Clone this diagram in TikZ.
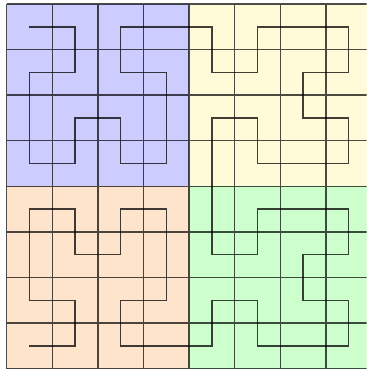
\documentclass[tikz,border=0pt]{standalone}
\definecolor{quadblue}{HTML}{CCCCFF}
\definecolor{quadyellow}{HTML}{FFFAD7}
\definecolor{quadpeach}{HTML}{FFE4CC}
\definecolor{quadgreen}{HTML}{CCFFCC}
\begin{document}
\begin{tikzpicture}[scale=1,gridline/.style={draw=black,opacity=0.7,line width=0.9pt},curveline/.style={draw=black,opacity=0.75,line width=0.9pt}]
\clip (-0.147,-0.05) rectangle (7.897,8.088);
\fill[quadblue] (0,4) rectangle (4,8);
\fill[quadyellow] (4,4) rectangle (8,8);
\fill[quadpeach] (0,0) rectangle (4,4);
\fill[quadgreen] (4,0) rectangle (8,4);
\draw[gridline] (0,0) grid (8,8);
\draw[curveline] (0.5,7.5) -- (1.5,7.5) -- (1.5,6.5) -- (0.5,6.5) -- (0.5,4.5) -- (1.5,4.5) -- (1.5,5.5) -- (2.5,5.5) -- (2.5,4.5) -- (3.5,4.5) -- (3.5,6.5) -- (2.5,6.5) -- (2.5,7.5)
  -- (4.5,7.5) -- (4.5,6.5) -- (5.5,6.5) -- (5.5,7.5) -- (7.5,7.5) -- (7.5,6.5) -- (6.5,6.5) -- (6.5,5.5) -- (7.5,5.5) -- (7.5,4.5) -- (5.5,4.5) -- (5.5,5.5) -- (4.5,5.5)
  -- (4.5,2.5) -- (5.5,2.5) -- (5.5,3.5) -- (7.5,3.5) -- (7.5,2.5) -- (6.5,2.5) -- (6.5,1.5) -- (7.5,1.5) -- (7.5,0.5) -- (5.5,0.5) -- (5.5,1.5) -- (4.5,1.5) -- (4.5,0.5)
  -- (2.5,0.5) -- (2.5,1.5) -- (3.5,1.5) -- (3.5,3.5) -- (2.5,3.5) -- (2.5,2.5) -- (1.5,2.5) -- (1.5,3.5) -- (0.5,3.5) -- (0.5,1.5) -- (1.5,1.5) -- (1.5,0.5) -- (0.5,0.5);
\end{tikzpicture}
\end{document}
